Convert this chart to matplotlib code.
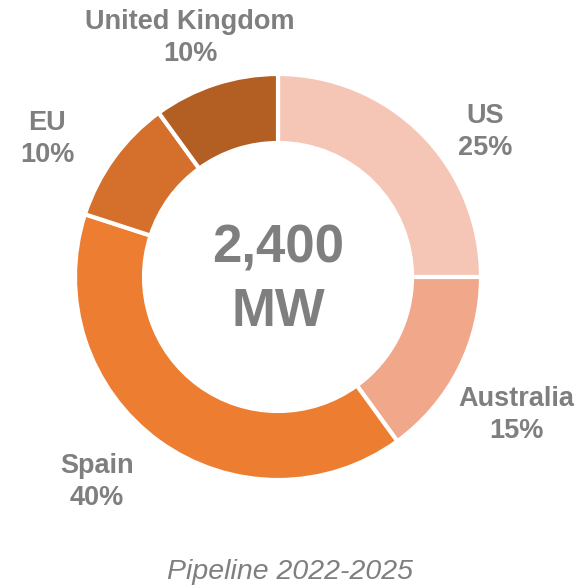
import matplotlib
matplotlib.use('Agg')
import matplotlib.pyplot as plt

plt.rcParams['font.family'] = ['Liberation Sans', 'DejaVu Sans']

regions = ['US', 'Australia', 'Spain', 'EU', 'United Kingdom']
shares = [25, 15, 40, 10, 10]
colors = ['#F5C6B6', '#F1A78A', '#ED7D31', '#D4702B', '#B35E22']
total_mw = 2400
caption = 'Pipeline 2022-2025'

GREY = '#7F7F7F'
W, H = 577, 588
cx, cy = 278, H - 277
R, ring = 203, 69

# label anchors in pixel space (x, y from top)
label_pos = {
    'US': (485, 132),
    'Australia': (516, 415),
    'Spain': (97, 482),
    'EU': (47, 139),
    'United Kingdom': (190, 38),
}


def main():
    fig = plt.figure(figsize=(W / 100, H / 100), dpi=100)
    ax = fig.add_axes([0, 0, 1, 1])

    ax.pie(shares, colors=colors, startangle=90, counterclock=False,
           center=(cx, cy), radius=R,
           wedgeprops=dict(width=ring, edgecolor='white', linewidth=3))

    ax.set_xlim(0, W)
    ax.set_ylim(0, H)
    ax.set_aspect('equal')
    ax.axis('off')

    for name, val in zip(regions, shares):
        x, y = label_pos[name]
        ax.text(x, H - y, f'{name}\n{val}%', ha='center', va='center',
                fontsize=19.5, fontweight='bold', color=GREY, linespacing=1.32)

    ax.text(cx, H - 280, f'{total_mw:,}\nMW', ha='center', va='center',
            fontsize=38, fontweight='bold', color=GREY, linespacing=1.35)

    ax.text(290, H - 572, caption, ha='center', va='center',
            fontsize=20.5, fontstyle='italic', color=GREY)

    fig.savefig('out.png', dpi=100)


if __name__ == "__main__":
    main()
